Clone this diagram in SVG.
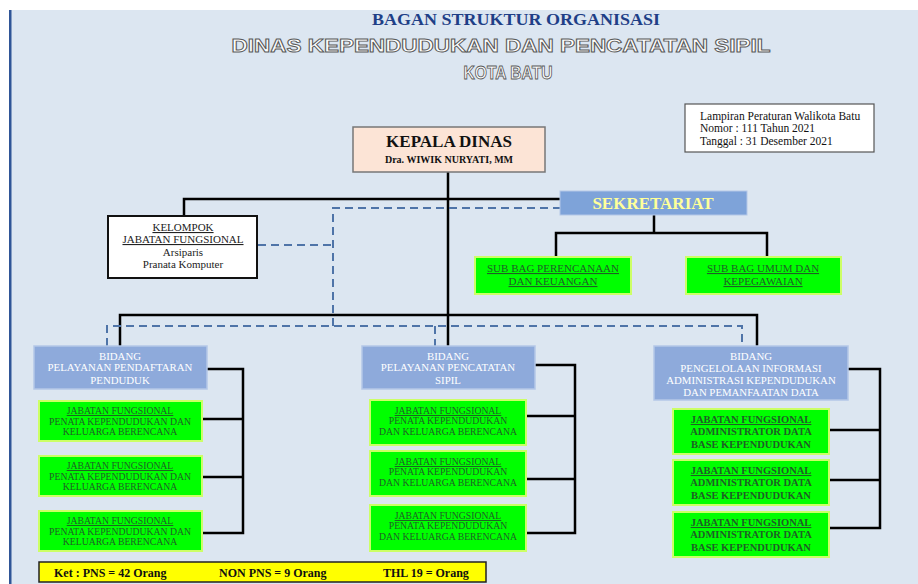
<svg xmlns="http://www.w3.org/2000/svg" width="918" height="584" viewBox="0 0 918 584">
<style>
.serif{font-family:"Liberation Serif","Times New Roman",serif}
.bidang{fill:#8eaadb;stroke:#b4c7e7;stroke-width:1.5}
.btxt{font-family:"Liberation Serif",serif;font-size:10.8px;fill:#ffffff;text-anchor:middle}
.green{fill:#00ff00;stroke:#ccff66;stroke-width:2}
.gtxt{font-family:"Liberation Serif",serif;font-size:9.7px;fill:#1f5f26;text-anchor:middle}
.stxt{font-family:"Liberation Serif",serif;font-size:11px;fill:#1f5f26;text-anchor:middle;text-decoration:underline}
.gtxt3{font-family:"Liberation Serif",serif;font-size:10.5px;font-weight:bold;fill:#1f5f26;text-anchor:middle}
.solid{stroke:#000;stroke-width:2.5;fill:none}
.dash{stroke:#4f74a8;stroke-width:2;stroke-dasharray:8 5;fill:none}
.outl{font-family:"Liberation Sans",Arial,sans-serif;font-weight:bold;fill:#ffffff;stroke:#5a5a5a;stroke-width:0.9;text-anchor:middle}
</style>
<rect x="0" y="0" width="918" height="584" fill="#ffffff"/>
<rect x="9" y="10" width="909" height="574" fill="#dce6f1"/>
<rect x="9" y="10" width="2.5" height="574" fill="#2f5597"/>

<g id="title">
<text class="serif" x="516" y="25" font-size="16" font-weight="bold" fill="#1f3f87" text-anchor="middle" textLength="288" lengthAdjust="spacingAndGlyphs">BAGAN STRUKTUR ORGANISASI</text>
<text class="outl" x="501" y="52" font-size="17.5" textLength="539" lengthAdjust="spacingAndGlyphs">DINAS KEPENDUDUKAN DAN PENCATATAN SIPIL</text>
<text class="outl" x="508" y="79" font-size="17.5" textLength="89" lengthAdjust="spacingAndGlyphs">KOTA BATU</text>
</g>

<g id="lampiran">
<rect x="685" y="104" width="189" height="48" fill="#ffffff" stroke="#555" stroke-width="1.2"/>
<text class="serif" x="700" y="120" font-size="11.5" fill="#111">Lampiran Peraturan Walikota Batu</text>
<text class="serif" x="700" y="132" font-size="11.5" fill="#111">Nomor : 111 Tahun 2021</text>
<text class="serif" x="700" y="145" font-size="11.5" fill="#111">Tanggal : 31 Desember 2021</text>
</g>

<g id="connectors">
<path class="solid" d="M448,172 V346"/>
<path class="solid" d="M184,216 V199 H560"/>
<path class="dash" d="M258,245 H333 M333,326 V208 H560"/>
<path class="solid" d="M120,346 V315 H757 V346"/>
<path class="dash" d="M107,346 V326 H742 V346 M435,326 V346"/>
<path class="solid" d="M654,215 V233 M556,257 V233 H767 V257"/>
<path class="solid" d="M207,369 H243 V533 H202 M202,419 H243 M202,477 H243"/>
<path class="solid" d="M535,365 H575 V533 H526 M526,416 H575 M526,479 H575"/>
<path class="solid" d="M848,369 H880 V528 H829 M829,430 H880 M829,480 H880"/>
</g>

<g id="kepala">
<rect x="353" y="127" width="192" height="45" fill="#fce4d6" stroke="#777" stroke-width="1.5"/>
<text class="serif" x="449" y="147" font-size="17" font-weight="bold" fill="#111" text-anchor="middle">KEPALA DINAS</text>
<text class="serif" x="449" y="163" font-size="10" font-weight="bold" fill="#111" text-anchor="middle">Dra. WIWIK NURYATI, MM</text>
</g>

<g id="kelompok">
<rect x="108" y="216" width="149" height="62" fill="#ffffff" stroke="#111" stroke-width="2"/>
<text class="serif" x="183" y="231" font-size="11" fill="#222" text-anchor="middle" text-decoration="underline">KELOMPOK</text>
<text class="serif" x="183" y="243" font-size="11" fill="#222" text-anchor="middle" text-decoration="underline">JABATAN FUNGSIONAL</text>
<text class="serif" x="183" y="256" font-size="11" fill="#222" text-anchor="middle">Arsiparis</text>
<text class="serif" x="183" y="268" font-size="11" fill="#222" text-anchor="middle">Pranata Komputer</text>
</g>

<g id="sekretariat">
<rect x="560" y="191" width="187" height="24" fill="#7ea3d9" stroke="#b4c7e7" stroke-width="1"/>
<text class="serif" x="653" y="209" font-size="17" font-weight="bold" fill="#ffff99" text-anchor="middle">SEKRETARIAT</text>
</g>

<g id="subbag1">
<rect class="green" x="475" y="257" width="156" height="37"/>
<text class="stxt" x="553" y="272">SUB BAG PERENCANAAN</text>
<text class="stxt" x="553" y="285">DAN KEUANGAN</text>
</g>
<g id="subbag2">
<rect class="green" x="686" y="257" width="155" height="37"/>
<text class="stxt" x="763" y="272">SUB BAG UMUM DAN</text>
<text class="stxt" x="763" y="285">KEPEGAWAIAN</text>
</g>

<g id="bidang1">
<rect class="bidang" x="34" y="346" width="173" height="43"/>
<text class="btxt" x="120" y="360">BIDANG</text>
<text class="btxt" x="120" y="371">PELAYANAN PENDAFTARAN</text>
<text class="btxt" x="120" y="384">PENDUDUK</text>
</g>
<g id="b1jf1">
<rect class="green" x="39" y="401" width="163" height="40"/>
<text class="gtxt" x="120" y="414" text-decoration="underline">JABATAN FUNGSIONAL</text>
<text class="gtxt" x="120" y="425">PENATA KEPENDUDUKAN DAN</text>
<text class="gtxt" x="120" y="435">KELUARGA BERENCANA</text>
</g>
<g id="b1jf2">
<rect class="green" x="39" y="456" width="163" height="40"/>
<text class="gtxt" x="120" y="469" text-decoration="underline">JABATAN FUNGSIONAL</text>
<text class="gtxt" x="120" y="480">PENATA KEPENDUDUKAN DAN</text>
<text class="gtxt" x="120" y="490">KELUARGA BERENCANA</text>
</g>
<g id="b1jf3">
<rect class="green" x="39" y="511" width="163" height="40"/>
<text class="gtxt" x="120" y="524" text-decoration="underline">JABATAN FUNGSIONAL</text>
<text class="gtxt" x="120" y="535">PENATA KEPENDUDUKAN DAN</text>
<text class="gtxt" x="120" y="545">KELUARGA BERENCANA</text>
</g>

<g id="bidang2">
<rect class="bidang" x="362" y="346" width="173" height="43"/>
<text class="btxt" x="448" y="360">BIDANG</text>
<text class="btxt" x="448" y="371">PELAYANAN PENCATATAN</text>
<text class="btxt" x="448" y="384">SIPIL</text>
</g>
<g id="b2jf1">
<rect class="green" x="370" y="400" width="156" height="45"/>
<text class="gtxt" x="448" y="414" text-decoration="underline">JABATAN FUNGSIONAL</text>
<text class="gtxt" x="448" y="424">PENATA KEPENDUDUKAN</text>
<text class="gtxt" x="448" y="435">DAN KELUARGA BERENCANA</text>
</g>
<g id="b2jf2">
<rect class="green" x="370" y="451" width="156" height="45"/>
<text class="gtxt" x="448" y="465" text-decoration="underline">JABATAN FUNGSIONAL</text>
<text class="gtxt" x="448" y="475">PENATA KEPENDUDUKAN</text>
<text class="gtxt" x="448" y="486">DAN KELUARGA BERENCANA</text>
</g>
<g id="b2jf3">
<rect class="green" x="370" y="505" width="156" height="46"/>
<text class="gtxt" x="448" y="519" text-decoration="underline">JABATAN FUNGSIONAL</text>
<text class="gtxt" x="448" y="529">PENATA KEPENDUDUKAN</text>
<text class="gtxt" x="448" y="540">DAN KELUARGA BERENCANA</text>
</g>

<g id="bidang3">
<rect class="bidang" x="654" y="346" width="194" height="54"/>
<text class="btxt" x="751" y="360">BIDANG</text>
<text class="btxt" x="751" y="372">PENGELOLAAN INFORMASI</text>
<text class="btxt" x="751" y="384">ADMINISTRASI KEPENDUDUKAN</text>
<text class="btxt" x="751" y="396">DAN PEMANFAATAN DATA</text>
</g>
<g id="b3jf1">
<rect class="green" x="673" y="409" width="156" height="45"/>
<text class="gtxt3" x="751" y="423" text-decoration="underline">JABATAN FUNGSIONAL</text>
<text class="gtxt3" x="751" y="435">ADMINISTRATOR DATA</text>
<text class="gtxt3" x="751" y="448">BASE KEPENDUDUKAN</text>
</g>
<g id="b3jf2">
<rect class="green" x="673" y="460" width="156" height="45"/>
<text class="gtxt3" x="751" y="474" text-decoration="underline">JABATAN FUNGSIONAL</text>
<text class="gtxt3" x="751" y="486">ADMINISTRATOR DATA</text>
<text class="gtxt3" x="751" y="499">BASE KEPENDUDUKAN</text>
</g>
<g id="b3jf3">
<rect class="green" x="673" y="512" width="156" height="45"/>
<text class="gtxt3" x="751" y="526" text-decoration="underline">JABATAN FUNGSIONAL</text>
<text class="gtxt3" x="751" y="538">ADMINISTRATOR DATA</text>
<text class="gtxt3" x="751" y="551">BASE KEPENDUDUKAN</text>
</g>

<g id="ket">
<rect x="39" y="562" width="447" height="20" fill="#ffff00" stroke="#222" stroke-width="1.5"/>
<text class="serif" x="54" y="577" font-size="12" font-weight="bold" fill="#111">Ket : PNS = 42 Orang</text>
<text class="serif" x="219" y="577" font-size="12" font-weight="bold" fill="#111">NON PNS = 9 Orang</text>
<text class="serif" x="383" y="577" font-size="12" font-weight="bold" fill="#111">THL 19 = Orang</text>
</g>
</svg>
